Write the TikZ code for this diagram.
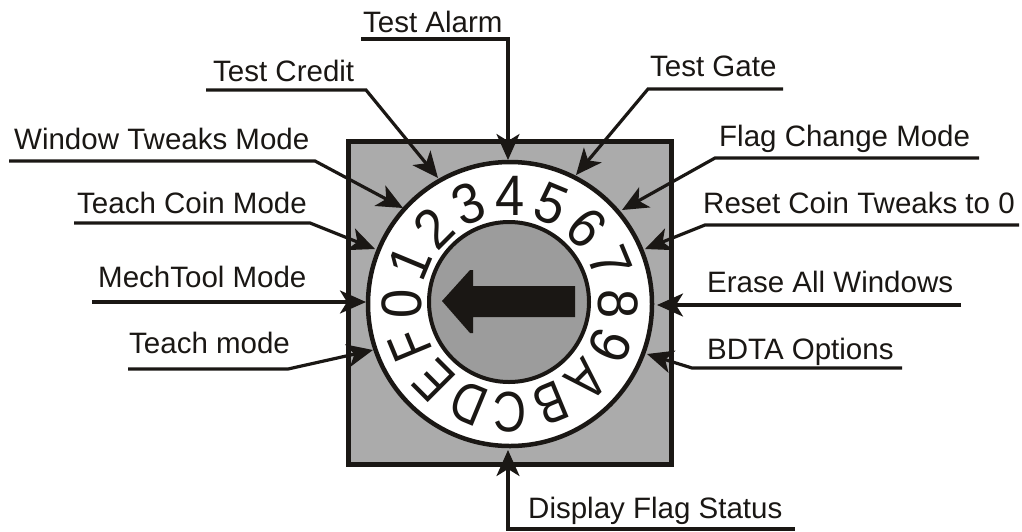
\documentclass[tikz,border=0pt]{standalone}
\usepackage{fontspec}
\setmainfont{Liberation Sans}
\usetikzlibrary{arrows.meta}
\definecolor{inkblack}{HTML}{1A1714}
\definecolor{casegrey}{HTML}{ABABAB}
\definecolor{hubgrey}{HTML}{9C9C9C}
\tikzset{
    caption/.style={anchor=base west, inner sep=0pt, text=inkblack, font=\fontsize{29.5}{32}\selectfont},
    leader/.style={draw=inkblack, line width=3.2pt, line join=miter, -{Stealth[length=26pt, width=23pt, inset=7pt]}},
    digit/.style={inner sep=0pt, text=inkblack, transform shape, font=\fontsize{57}{57}\selectfont},
}
\begin{document}
\begin{tikzpicture}[x=1pt, y=-1pt]
    \useasboundingbox (0,0) rectangle (1022,531);
    % switch body
    \node[draw=inkblack, fill=casegrey, line width=5pt, minimum size=323pt, inner sep=0pt] (body) at (509.5,302.5) {};
    \node[circle, draw=inkblack, fill=white, line width=4.5pt, minimum size=284pt, inner sep=0pt, outer sep=0pt] (dial) at (510,304) {};
    \node[circle, draw=inkblack, fill=hubgrey, line width=4pt, minimum size=160pt, inner sep=0pt, outer sep=0pt] (hub) at (509,302) {};
    \foreach \lbl/\sx [count=\i from 0] in {0/.92,1/.92,2/.92,3/.92,4/.92,5/.92,6/.92,7/.92,8/.92,9/.92,A/.8,B/.8,C/.8,D/.8,E/.8,F/.8} {
        \pgfmathsetmacro{\ang}{180-22.5*\i}
        \node[digit, rotate=\ang-90, xscale=\sx] (d\i) at ([shift={(\ang:108pt)}]dial.center) {\lbl};
    }
    \fill[inkblack] (442,301) -- (470,270) -- (473,270) -- (473,286) -- (575,286) -- (575,317) -- (473,317) -- (473,333) -- (470,333) -- cycle;
    % left labels
    \node[caption] (alarm) at (363,32) {Test Alarm};
    \node[caption] (credit) at (213,81) {Test Credit};
    \node[caption] (window) at (14,149) {Window Tweaks Mode};
    \node[caption] (coin) at (77,213) {Teach Coin Mode};
    \node[caption] (mech) at (98,287) {MechTool Mode};
    \node[caption] (teach) at (129,353) {Teach mode};
    % right labels
    \node[caption] (gate) at (650,76) {Test Gate};
    \node[caption] (flag) at (719,146) {Flag Change Mode};
    \node[caption] (reset) at (703,213) {Reset Coin Tweaks to 0};
    \node[caption] (erase) at (707,292) {Erase All Windows};
    \node[caption] (bdta) at (707,359) {BDTA Options};
    \node[caption] (status) at (528,518) {Display Flag Status};
    % leader ends
    \coordinate (alarmend) at (361,39);
    \coordinate (alarmtip) at (508,160);
    \coordinate (creditend) at (206,90);
    \coordinate (credittip) at (438,178);
    \coordinate (windowend) at (9,161);
    \coordinate (windowtip) at (403,208);
    \coordinate (coinend) at (74,223);
    \coordinate (cointip) at (375,249);
    \coordinate (mechend) at (92,302);
    \coordinate (mechtip) at (366,302);
    \coordinate (teachend) at (128,369);
    \coordinate (teachtip) at (373,350);
    \coordinate (gateend) at (783,89);
    \coordinate (gatetip) at (576,175);
    \coordinate (flagend) at (979,158);
    \coordinate (flagtip) at (622,210);
    \coordinate (resetend) at (1019,225);
    \coordinate (resettip) at (645,249);
    \coordinate (eraseend) at (961,305);
    \coordinate (erasetip) at (657,305);
    \coordinate (bdtaend) at (902,368);
    \coordinate (bdtatip) at (647,354);
    \coordinate (statusend) at (795,529);
    \coordinate (statustip) at (508,450);
    % leaders
    \draw[leader] (alarmend) -- (508,39) -- (alarmtip);
    \draw[leader] (creditend) -- (366,90) -- (credittip);
    \draw[leader] (windowend) -- (315,161) -- (windowtip);
    \draw[leader] (coinend) -- (310,223) -- (cointip);
    \draw[leader] (mechend) -- (mechtip);
    \draw[leader] (teachend) -- (288,369) -- (teachtip);
    \draw[leader] (gateend) -- (648,89) -- (gatetip);
    \draw[leader] (flagend) -- (715,158) -- (flagtip);
    \draw[leader] (resetend) -- (705,225) -- (resettip);
    \draw[leader] (eraseend) -- (erasetip);
    \draw[leader] (bdtaend) -- (692,368) -- (bdtatip);
    \draw[leader] (statusend) -- (508,529) -- (statustip);
\end{tikzpicture}
\end{document}
